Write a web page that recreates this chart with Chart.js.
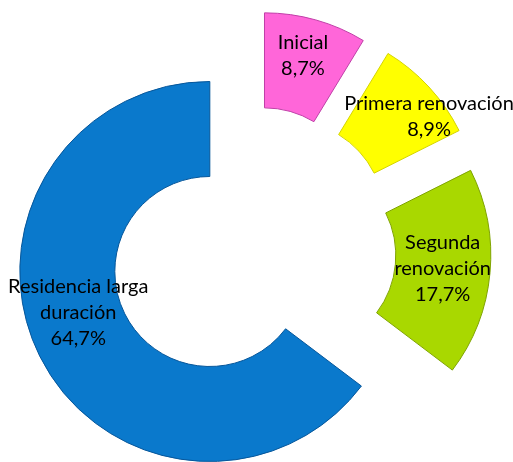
<!DOCTYPE html>
<html>
<head>
<meta charset="utf-8">
<script src="https://cdn.jsdelivr.net/npm/chart.js@4/dist/chart.umd.min.js"></script>
<style>
    html, body { margin: 0; padding: 0; background: #fff; }
    #wrap { width: 513px; height: 462px; }
</style>
</head>
<body>
<div id="wrap"><canvas id="tarjetas"></canvas></div>
<script>
// categories (split in lines as in the picture) and shares in %
var categorias = [['Inicial'], ['Primera renovación'], ['Segunda', 'renovación'], ['Residencia larga', 'duración']];
var porcentajes = [8.7, 8.9, 17.7, 64.7];
var colores = ['#FF66D9', '#FFFF00', '#A9D800', '#0A79CC'];
var bordes = ['#C040A8', '#D4D400', '#7FA300', '#06569A'];

// how far each slice is pulled out (px) and nudges for the text
var separacion = [50, 52, 50, 46];
var desplazaEtiqueta = [[0, -10], [35, -3], [0, 0], [-4, -22]];

// chart.js offset also grows the radius, so move the arcs by hand instead
var explotar = {
    id: 'explotar',
    afterDatasetsUpdate: function(chart) {
        var meta = chart.getDatasetMeta(0);
        meta.data.forEach(function(arc, i) {
            var mitad = (arc.startAngle + arc.endAngle) / 2;
            arc.x += Math.cos(mitad) * separacion[i];
            arc.y += Math.sin(mitad) * separacion[i];
        });
    }
};

var etiquetas = {
    id: 'etiquetas',
    afterDatasetsDraw: function(chart) {
        var ctx = chart.ctx;
        var meta = chart.getDatasetMeta(0);
        ctx.save();
        ctx.font = '20px Lato, "Open Sans", sans-serif';
        ctx.fillStyle = '#000';
        ctx.textAlign = 'center';
        ctx.textBaseline = 'middle';
        meta.data.forEach(function(arc, i) {
            var p = arc.tooltipPosition();
            var lineas = categorias[i].concat([porcentajes[i].toFixed(1).replace('.', ',') + '%']);
            var alto = 26;
            var x = p.x + desplazaEtiqueta[i][0];
            var y0 = p.y + desplazaEtiqueta[i][1] - (lineas.length - 1) * alto / 2;
            lineas.forEach(function(t, j) {
                ctx.fillText(t, x, y0 + j * alto);
            });
        });
        ctx.restore();
    }
};

var ctx = document.getElementById('tarjetas').getContext('2d');
var chart = new Chart(ctx, {
    type: 'doughnut',
    data: {
        labels: categorias,
        datasets: [{
            data: porcentajes,
            backgroundColor: colores,
            borderColor: bordes,
            borderWidth: 1,
            hoverOffset: 0,
            clip: false
        }]
    },
    options: {
        responsive: true,
        maintainAspectRatio: false,
        animation: false,
        radius: 190,
        cutout: '50%',
        layout: {
            padding: { left: 0, right: 11, top: 40, bottom: 0 }
        },
        plugins: {
            legend: { display: false },
            tooltip: { enabled: false }
        }
    },
    plugins: [explotar, etiquetas]
});
</script>
</body>
</html>
